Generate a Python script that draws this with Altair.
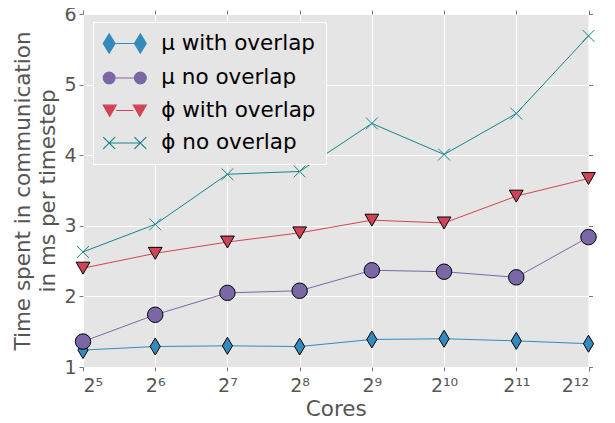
import altair as alt
import pandas as pd

cores = [32, 64, 128, 256, 512, 1024, 2048, 4096]
tick_labels = ["2⁵", "2⁶", "2⁷", "2⁸", "2⁹", "2¹⁰", "2¹¹", "2¹²"]
y_ticks = [1, 2, 3, 4, 5, 6]

series = ["μ with overlap", "μ no overlap", "ϕ with overlap", "ϕ no overlap"]
mu_overlap = [1.24, 1.29, 1.30, 1.29, 1.39, 1.40, 1.37, 1.33]
mu_no_overlap = [1.36, 1.74, 2.05, 2.08, 2.37, 2.35, 2.27, 2.84]
phi_overlap = [2.40, 2.61, 2.77, 2.90, 3.08, 3.04, 3.42, 3.67]
phi_no_overlap = [2.63, 3.02, 3.73, 3.77, 4.45, 4.01, 4.59, 5.69]

colors = ["#348ABD", "#7A68A6", "#CF4457", "#188487"]
edge = ["black", "black", "black", "#188487"]
marker_paths = [
    "M0,-1 L0.6,0 L0,1 L-0.6,0 Z",
    "circle",
    "triangle-down",
    "M-1,-1 L1,1 M-1,1 L1,-1",
]
marker_sizes = [289, 140, 160, 160]
legend_paths = [
    "M-1.45,-0.9 L-0.9,0 L-1.45,0.9 L-2,0 Z M1.45,-0.9 L2,0 L1.45,0.9 L0.9,0 Z M-0.9,0 L0.9,0",
    "M-0.9,0 A0.55,0.55 0 1,1 -2,0 A0.55,0.55 0 1,1 -0.9,0 Z M2,0 A0.55,0.55 0 1,1 0.9,0 A0.55,0.55 0 1,1 2,0 Z M-0.9,0 L0.9,0",
    "M-2,-0.5 L-0.8,-0.5 L-1.4,0.55 Z M0.8,-0.5 L2,-0.5 L1.4,0.55 Z M-0.8,0 L0.8,0",
    "M-2,-0.55 L-0.9,0.55 M-2,0.55 L-0.9,-0.55 M0.9,-0.55 L2,0.55 M0.9,0.55 L2,-0.55 M-1.45,0 L1.45,0",
]

values = [mu_overlap, mu_no_overlap, phi_overlap, phi_no_overlap]
rows = []
for name, vals in zip(series, values):
    for c, v in zip(cores, vals):
        rows.append({"cores": c, "time": v, "series": name})
df = pd.DataFrame(rows)

label_expr = "[" + ",".join("'%s'" % t for t in tick_labels) + "][indexof([" + ",".join(str(c) for c in cores) + "], datum.value)]"

xscale = alt.Scale(type="log", base=2, domain=[32, 4096], nice=False)
yscale = alt.Scale(domain=[1, 6], nice=False)

x = alt.X("cores:Q", scale=xscale,
          axis=alt.Axis(values=cores, labelExpr=label_expr, title="Cores", grid=True))
y = alt.Y("time:Q", scale=yscale,
          axis=alt.Axis(values=y_ticks, title=["Time spent in communication", "in ms per timestep"]))
x_plain = alt.X("cores:Q", scale=xscale, axis=None)
y_plain = alt.Y("time:Q", scale=yscale, axis=None)
x_top = alt.X("cores:Q", scale=xscale,
              axis=alt.Axis(orient="top", values=cores, labels=False, title=None, grid=False))
y_right = alt.Y("time:Q", scale=yscale,
                axis=alt.Axis(orient="right", values=y_ticks, labels=False, title=None, grid=False))

base = alt.Chart(df)

lines = base.mark_line(strokeWidth=1).encode(
    x=x, y=y,
    color=alt.Color("series:N", scale=alt.Scale(domain=series, range=colors), legend=None),
    detail="series:N",
)

points = base.mark_point(filled=True, opacity=1, strokeWidth=1).encode(
    x=x_plain, y=y_plain,
    shape=alt.Shape("series:N", scale=alt.Scale(domain=series, range=marker_paths), legend=None),
    fill=alt.Fill("series:N", scale=alt.Scale(domain=series, range=colors), legend=None),
    stroke=alt.Stroke("series:N", scale=alt.Scale(domain=series, range=edge), legend=None),
    size=alt.Size("series:N", scale=alt.Scale(domain=series, range=marker_sizes), legend=None),
)

legend_layer = base.transform_filter("false").mark_point(filled=True, size=462).encode(
    x=x_top, y=y_right,
    shape=alt.Shape("series:N", scale=alt.Scale(domain=series, range=legend_paths), title=None),
    fill=alt.Fill("series:N", scale=alt.Scale(domain=series, range=colors), title=None),
    stroke=alt.Stroke("series:N", scale=alt.Scale(domain=series, range=colors), title=None),
)

chart = alt.layer(lines, points, legend_layer).resolve_scale(
    shape="independent", fill="independent", stroke="independent", size="independent", color="independent"
).resolve_axis(
    x="independent", y="independent"
).properties(
    width=505.5, height=353,
    autosize=alt.AutoSizeParams(type="none"),
    padding={"left": 75, "top": 6, "right": 18, "bottom": 55},
).configure_view(
    fill="#E5E5E5", stroke=None
).configure_axis(
    labelFont="DejaVu Sans", titleFont="DejaVu Sans",
    labelFontSize=19, titleFontSize=21.5, labelColor="#555555", titleColor="#555555",
    titleFontWeight="normal", gridColor="white", gridWidth=1, domain=False,
    tickColor="#777777", tickSize=4, labelPadding=3,
).configure_axisLeft(
    titlePadding=4, titleLineHeight=25,
).configure_axisBottom(
    titlePadding=3, labelPadding=5,
).configure_legend(
    orient="none", legendX=10, legendY=8,
    fillColor="#E5E5E5", strokeColor="white", padding=10, cornerRadius=0,
    labelFont="DejaVu Sans", labelFontSize=21.5, labelColor="black",
    symbolSize=462, symbolOffset=10.25, labelOffset=25, rowPadding=10.5,
    symbolStrokeWidth=1.2, symbolOpacity=1,
)

chart.save("out.html", embed_options={"renderer": "svg", "actions": False})
